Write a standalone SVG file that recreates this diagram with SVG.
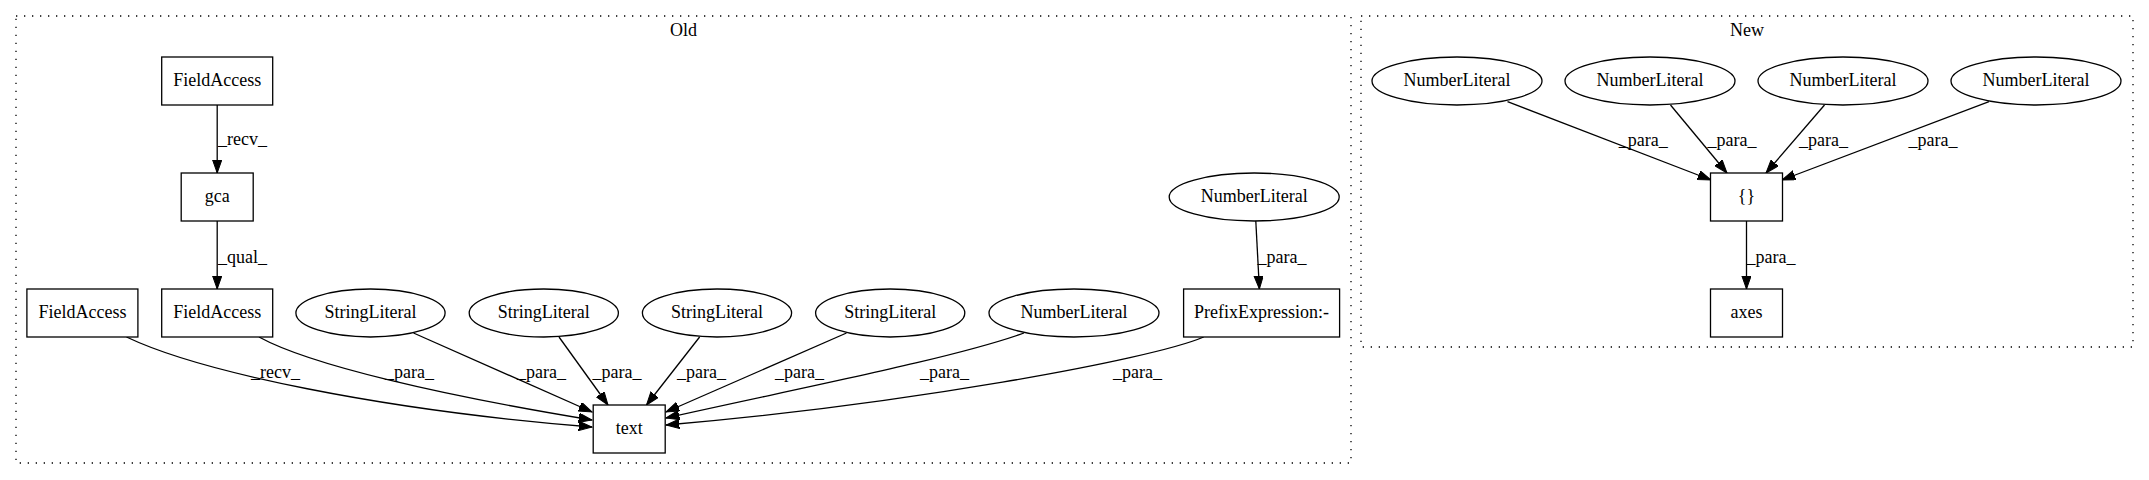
<svg xmlns="http://www.w3.org/2000/svg" width="2149" height="480" viewBox="0 0 2149 480">
<style>
.cl{fill:none;stroke:#000;stroke-width:1.3;stroke-dasharray:1.3,6.7}
.n{fill:#fff;stroke:#000;stroke-width:1.3}
.t{font-family:"Liberation Serif","Times New Roman",serif;font-size:18px;fill:#000;text-anchor:middle}
.e{fill:none;stroke:#000;stroke-width:1.3;marker-end:url(#ah)}
</style>
<defs>
<marker id="ah" markerUnits="userSpaceOnUse" markerWidth="14" markerHeight="10" refX="13.3" refY="4.7" orient="auto">
<path d="M0,0 L13.3,4.7 L0,9.4 z" fill="#000" stroke="#000" stroke-width="1"/>
</marker>
</defs>
<rect width="2149" height="480" fill="#fff"/>
<g id="cluster_old">
<rect class="cl" x="16" y="16" width="1335" height="447"/>
<text class="t" x="683.5" y="36">Old</text>
</g>
<g id="cluster_new">
<rect class="cl" x="1361" y="16" width="772" height="331"/>
<text class="t" x="1747" y="36">New</text>
</g>
<g id="edges">
<path class="e" d="M217.2,105 L217.2,173"/>
<text class="t" x="242.5" y="145">_recv_</text>
<path class="e" d="M217.2,221 L217.2,289"/>
<text class="t" x="242.5" y="263">_qual_</text>
<path class="e" d="M126.5,337 C200,372 380,410 592,427"/>
<text class="t" x="275.4" y="378">_recv_</text>
<path class="e" d="M259,337 C310,365 440,395 592,420"/>
<text class="t" x="409.4" y="378">_para_</text>
<path class="e" d="M413.5,333 L592,412"/>
<text class="t" x="541.5" y="378">_para_</text>
<path class="e" d="M559,337 L608,405"/>
<text class="t" x="617" y="378">_para_</text>
<path class="e" d="M699.6,337 L646.5,405"/>
<text class="t" x="701.5" y="378">_para_</text>
<path class="e" d="M846.5,333 L666,412"/>
<text class="t" x="799.6" y="378">_para_</text>
<path class="e" d="M1024,333 C955,358 800,388 666,418"/>
<text class="t" x="944.6" y="378">_para_</text>
<path class="e" d="M1203.7,337 C1150,360 900,405 666,425"/>
<text class="t" x="1137.5" y="378">_para_</text>
<path class="e" d="M1255.8,221 L1259.4,289"/>
<text class="t" x="1282" y="263">_para_</text>
<path class="e" d="M1507.5,101.7 L1711,180"/>
<text class="t" x="1643.3" y="146">_para_</text>
<path class="e" d="M1670.5,105 L1727,173"/>
<text class="t" x="1732" y="146">_para_</text>
<path class="e" d="M1824.5,105 L1766,173"/>
<text class="t" x="1823.5" y="146">_para_</text>
<path class="e" d="M1989,101.7 L1782,180"/>
<text class="t" x="1933" y="146">_para_</text>
<path class="e" d="M1746.5,221 L1746.5,289"/>
<text class="t" x="1771" y="263">_para_</text>
</g>
<g id="fa_top"><rect class="n" x="161.7" y="57" width="111" height="48"/><text class="t" x="217.2" y="86.4">FieldAccess</text></g>
<g id="gca"><rect class="n" x="181.2" y="173" width="72" height="48"/><text class="t" x="217.2" y="202.4">gca</text></g>
<g id="fa_mid"><rect class="n" x="161.7" y="289" width="111" height="48"/><text class="t" x="217.2" y="318.4">FieldAccess</text></g>
<g id="fa_left"><rect class="n" x="26.9" y="289" width="111" height="48"/><text class="t" x="82.4" y="318.4">FieldAccess</text></g>
<g id="sl1"><ellipse class="n" cx="370.5" cy="313" rx="74.6" ry="24"/><text class="t" x="370.5" y="318.4">StringLiteral</text></g>
<g id="sl2"><ellipse class="n" cx="543.8" cy="313" rx="74.6" ry="24"/><text class="t" x="543.8" y="318.4">StringLiteral</text></g>
<g id="sl3"><ellipse class="n" cx="717" cy="313" rx="74.6" ry="24"/><text class="t" x="717" y="318.4">StringLiteral</text></g>
<g id="sl4"><ellipse class="n" cx="890.2" cy="313" rx="74.6" ry="24"/><text class="t" x="890.2" y="318.4">StringLiteral</text></g>
<g id="nl_old"><ellipse class="n" cx="1074" cy="313" rx="85" ry="24"/><text class="t" x="1074" y="318.4">NumberLiteral</text></g>
<g id="prefix"><rect class="n" x="1183.6" y="289" width="156" height="48"/><text class="t" x="1261.6" y="318.4">PrefixExpression:-</text></g>
<g id="nl_top"><ellipse class="n" cx="1254.2" cy="197" rx="85" ry="24"/><text class="t" x="1254.2" y="202.4">NumberLiteral</text></g>
<g id="text"><rect class="n" x="593.2" y="405" width="72" height="48"/><text class="t" x="629.2" y="434.4">text</text></g>
<g id="nl_n1"><ellipse class="n" cx="1457" cy="81" rx="85" ry="24"/><text class="t" x="1457" y="86.4">NumberLiteral</text></g>
<g id="nl_n2"><ellipse class="n" cx="1650" cy="81" rx="85" ry="24"/><text class="t" x="1650" y="86.4">NumberLiteral</text></g>
<g id="nl_n3"><ellipse class="n" cx="1843" cy="81" rx="85" ry="24"/><text class="t" x="1843" y="86.4">NumberLiteral</text></g>
<g id="nl_n4"><ellipse class="n" cx="2036" cy="81" rx="85" ry="24"/><text class="t" x="2036" y="86.4">NumberLiteral</text></g>
<g id="braces"><rect class="n" x="1710.5" y="173" width="72" height="48"/><text class="t" x="1746.5" y="202.4">{}</text></g>
<g id="axes"><rect class="n" x="1710.5" y="289" width="72" height="48"/><text class="t" x="1746.5" y="318.4">axes</text></g>
</svg>
